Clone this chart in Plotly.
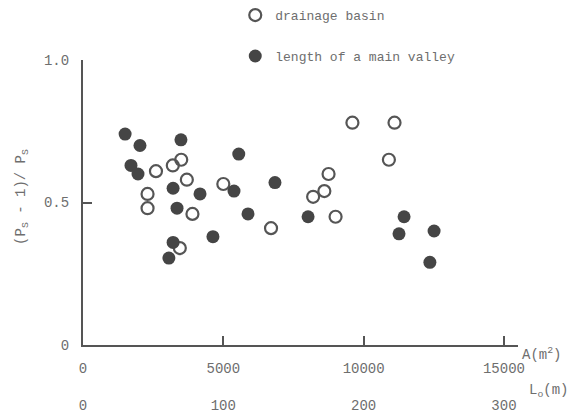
import plotly.graph_objects as go

# drainage basin (open circles): area A (m^2) vs (Ps-1)/Ps
basin_area = [2600, 3200, 3500, 3700, 2300, 2300, 3900, 5000, 6700, 3450,
              8200, 8600, 8750, 9000, 9600, 11100, 10900]
basin_ratio = [0.61, 0.63, 0.65, 0.58, 0.53, 0.48, 0.46, 0.565, 0.41, 0.34,
               0.52, 0.54, 0.60, 0.45, 0.78, 0.78, 0.65]

# length of a main valley (filled circles): L0 (m) vs (Ps-1)/Ps
valley_len = [30, 40.6, 69.8, 111, 34.2, 39.2, 64.2, 83.4, 107.6, 136.8,
              67, 117.6, 92.6, 64.2, 61.2, 160.4, 228.8, 225.2, 250.2, 247.2]
valley_ratio = [0.74, 0.70, 0.72, 0.67, 0.63, 0.60, 0.55, 0.53, 0.54, 0.57,
                0.48, 0.46, 0.38, 0.36, 0.305, 0.45, 0.45, 0.39, 0.40, 0.29]

a_ticks = [0, 5000, 10000, 15000]
l_ticks = [0, 100, 200, 300]
y_ticks = [0, 0.5, 1.0]
y_ticktext = ["0", "0.5", "1.0"]

FONT = "Liberation Mono, Courier New, monospace"
TXT = "#6e6e6e"

fig = go.Figure()
fig.add_trace(go.Scatter(
    x=basin_area, y=basin_ratio, mode="markers", name="drainage basin",
    legendgroup="a",
    marker=dict(symbol="circle-open", size=12, color="#555555",
                line=dict(width=2.2, color="#555555")),
))
fig.add_trace(go.Scatter(
    x=valley_len, y=valley_ratio, mode="markers", name="length of a main valley",
    legendgroup="b", xaxis="x2",
    marker=dict(symbol="circle", size=13, color="#454545",
                line=dict(width=0)),
))

fig.update_layout(
    width=586, height=416,
    margin=dict(l=83, r=68, t=60, b=71, autoexpand=False),
    paper_bgcolor="white", plot_bgcolor="white",
    font=dict(family=FONT, color=TXT, size=13),
    showlegend=True,
    legend=dict(x=0.35, y=1.21, xanchor="left", yanchor="top",
                bgcolor="rgba(0,0,0,0)", tracegroupgap=21,
                font=dict(family=FONT, size=13, color=TXT)),
    xaxis=dict(range=[0, 15500], tickvals=a_ticks, ticktext=[str(t) for t in a_ticks],
               showgrid=False, zeroline=False, showline=True, linecolor="#555555",
               linewidth=2, ticks="inside", ticklen=9, tickwidth=1.5, tickcolor="#555555",
               automargin=False,
               ticklabelstandoff=9, tickfont=dict(family=FONT, size=14, color=TXT)),
    xaxis2=dict(range=[0, 310], tickvals=l_ticks, ticktext=[str(t) for t in l_ticks],
                overlaying="x", anchor="free", position=0, side="bottom",
                showgrid=False, zeroline=False, showline=False, ticks="",
                automargin=False,
                ticklabelstandoff=50, tickfont=dict(family=FONT, size=14, color=TXT)),
    yaxis=dict(range=[0, 1.0], tickvals=y_ticks, ticktext=y_ticktext,
               showgrid=False, zeroline=False, showline=True, linecolor="#555555",
               linewidth=2, ticks="inside", ticklen=9, tickwidth=1.5, tickcolor="#555555",
               automargin=False,
               ticklabelstandoff=9, tickfont=dict(family=FONT, size=14, color=TXT)),
)

# y-axis title
fig.add_annotation(x=-0.14, y=0.52, xref="paper", yref="paper", xanchor="center",
                   yanchor="middle", showarrow=False, textangle=-90,
                   text="(P<sub>S</sub> - 1)/ P<sub>S</sub>",
                   font=dict(family=FONT, size=14, color=TXT))
# arrow head at end of x axis
fig.add_annotation(x=15600, y=0, xref="x", yref="y", ax=-14, ay=0,
                   axref="pixel", ayref="pixel", showarrow=True,
                   arrowhead=2, arrowsize=1.2, arrowwidth=2, arrowcolor="#555555", text="")
fig.add_annotation(x=1.005, y=-0.03, xref="paper", yref="paper", xanchor="left",
                   yanchor="middle", showarrow=False, text="A(m<sup>2</sup>)",
                   font=dict(family=FONT, size=14, color=TXT))
fig.add_annotation(x=1.02, y=-0.16, xref="paper", yref="paper", xanchor="left",
                   yanchor="middle", showarrow=False, text="L<sub>o</sub>(m)",
                   font=dict(family=FONT, size=14, color=TXT))

fig.write_html("out.html")
